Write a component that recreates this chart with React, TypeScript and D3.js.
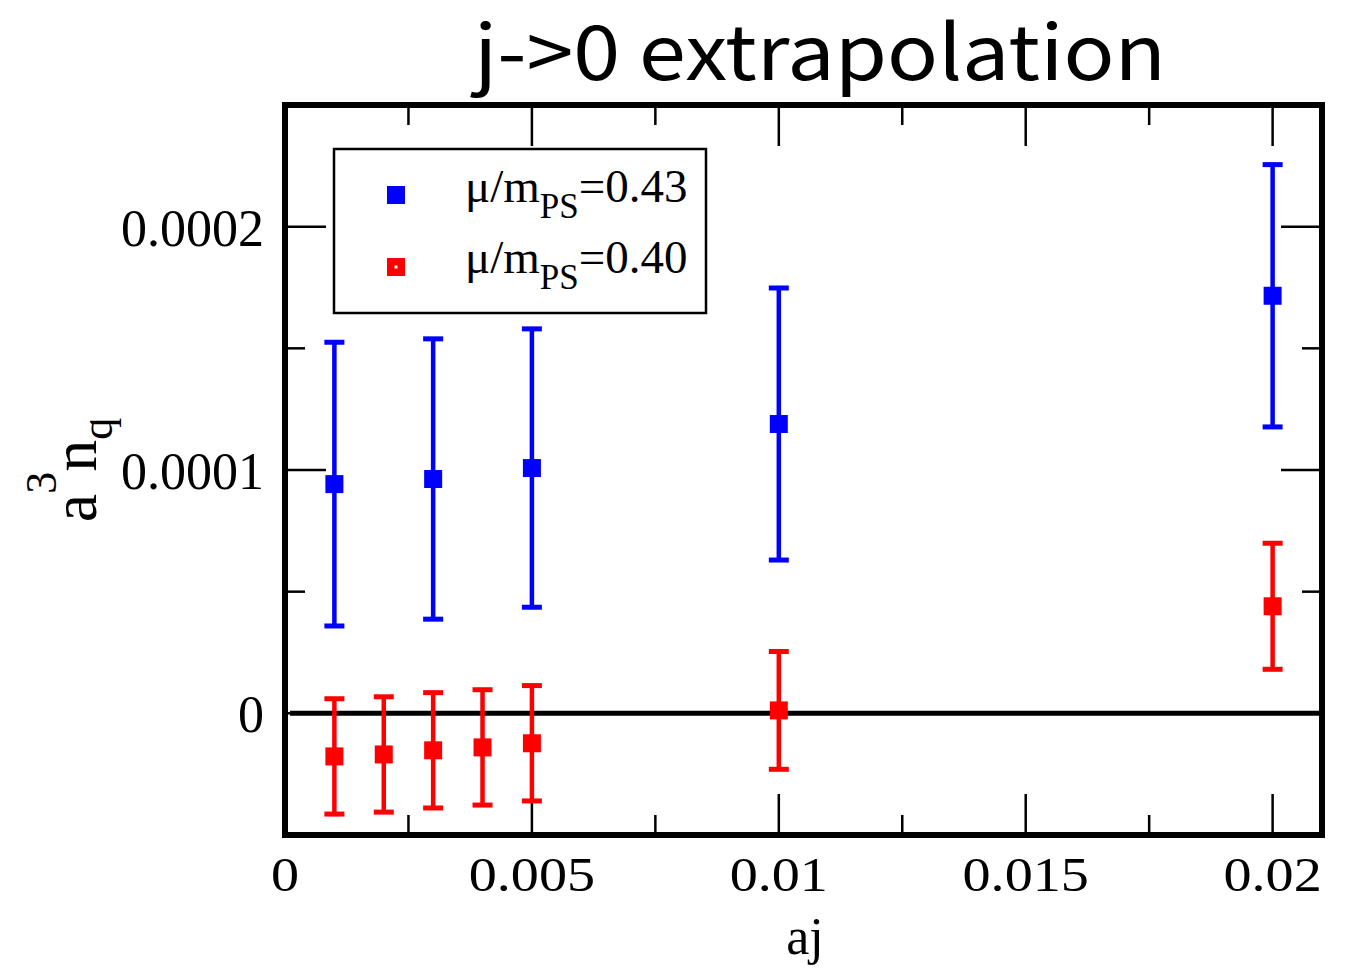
import React from "react";
import * as d3 from "d3";

const xsBlue = [0.001, 0.003, 0.005, 0.01, 0.02];
const yBlue = [0.0000942, 0.0000963, 0.0001008, 0.0001189, 0.0001716];
const eBlue = [0.0000583, 0.0000576, 0.0000572, 0.0000559, 0.0000539];

const xsRed = [0.001, 0.002, 0.003, 0.004, 0.005, 0.01, 0.02];
const yRed = [-0.0000177, -0.0000169, -0.0000152, -0.000014, -0.0000123, 0.0000012, 0.000044];
const eRed = [0.0000237, 0.0000237, 0.0000237, 0.0000237, 0.0000237, 0.0000242, 0.0000259];

const xMajor = [0, 0.005, 0.01, 0.015, 0.02];
const xMajorLabels = ["0", "0.005", "0.01", "0.015", "0.02"];
const xMinor = [0.0025, 0.0075, 0.0125, 0.0175];
const yMajor = [0, 0.0001, 0.0002];
const yMajorLabels = ["0", "0.0001", "0.0002"];
const yMinor = [-0.00005, 0.00005, 0.00015];

export default function App() {
  const W = 1353, H = 972;
  const L = 285, R = 1322, T = 105, B = 835;
  const x = d3.scaleLinear().domain([0, 0.021]).range([L, R]);
  const y = d3.scaleLinear().domain([-0.00005, 0.00025]).range([B, T]);
  const serif = "'Liberation Serif', 'Times New Roman', serif";

  const series = [
    { xs: xsBlue, ys: yBlue, es: eBlue, color: "#0000ff" },
    { xs: xsRed, ys: yRed, es: eRed, color: "#ff0000" },
  ];

  return (
    <svg width={W} height={H} style={{ position: "absolute", left: 0, top: 0 }}>
      <rect x={0} y={0} width={W} height={H} fill="white" />
      <text x={820} y={80} textAnchor="middle" fontFamily="'Noto Sans CJK JP', 'Noto Sans', sans-serif"
        fontSize={76} textLength={692} lengthAdjust="spacingAndGlyphs">j-&gt;0 extrapolation</text>

      {/* zero line */}
      <line x1={L + 5} x2={R} y1={y(0)} y2={y(0)} stroke="black" strokeWidth={5} />

      {/* ticks */}
      {xMajor.map((v, i) => (
        <g key={"xm" + i}>
          <line x1={x(v)} x2={x(v)} y1={B} y2={B - 41} stroke="black" strokeWidth={2.5} />
          <line x1={x(v)} x2={x(v)} y1={T} y2={T + 41} stroke="black" strokeWidth={2.5} />
          <g transform={`translate(${x(v)}, 891) scale(1.17, 1)`}>
            <text x={0} y={0} textAnchor="middle" fontFamily={serif} fontSize={48}>{xMajorLabels[i]}</text>
          </g>
        </g>
      ))}
      {xMinor.map((v, i) => (
        <g key={"xn" + i}>
          <line x1={x(v)} x2={x(v)} y1={B} y2={B - 20} stroke="black" strokeWidth={2.5} />
          <line x1={x(v)} x2={x(v)} y1={T} y2={T + 20} stroke="black" strokeWidth={2.5} />
        </g>
      ))}
      {yMajor.map((v, i) => (
        <g key={"ym" + i}>
          <line x1={L} x2={L + 41} y1={y(v)} y2={y(v)} stroke="black" strokeWidth={2.5} />
          <line x1={R} x2={R - 41} y1={y(v)} y2={y(v)} stroke="black" strokeWidth={2.5} />
          <text x={264} y={y(v) + 19} textAnchor="end" fontFamily={serif} fontSize={52}>{yMajorLabels[i]}</text>
        </g>
      ))}
      {yMinor.map((v, i) => (
        <g key={"yn" + i}>
          <line x1={L} x2={L + 20} y1={y(v)} y2={y(v)} stroke="black" strokeWidth={2.5} />
          <line x1={R} x2={R - 20} y1={y(v)} y2={y(v)} stroke="black" strokeWidth={2.5} />
        </g>
      ))}

      {/* data */}
      {series.map((s, si) => (
        <g key={"s" + si}>
          {s.xs.map((xv, i) => {
            const cx = x(xv), cy = y(s.ys[i]);
            const yt = y(s.ys[i] + s.es[i]), yb = y(s.ys[i] - s.es[i]);
            return (
              <g key={i}>
                <line x1={cx} x2={cx} y1={yt} y2={yb} stroke={s.color} strokeWidth={4.5} />
                <line x1={cx - 10} x2={cx + 10} y1={yt} y2={yt} stroke={s.color} strokeWidth={5} />
                <line x1={cx - 10} x2={cx + 10} y1={yb} y2={yb} stroke={s.color} strokeWidth={5} />
                <rect x={cx - 9} y={cy - 9} width={18} height={18} fill={s.color} />
              </g>
            );
          })}
        </g>
      ))}

      {/* frame */}
      <rect x={L} y={T} width={R - L} height={B - T} fill="none" stroke="black" strokeWidth={6} />

      {/* legend */}
      <rect x={334} y={149} width={372} height={164} fill="white" stroke="black" strokeWidth={2.5} />
      <rect x={387} y={186} width={18} height={18} fill="#0000ff" />
      <rect x={387} y={258} width={18} height={18} fill="#ff0000" />
      <rect x={394.5} y={265.5} width={3} height={3} fill="white" />
      <text x={465} y={202} fontFamily={serif} fontSize={47}>
        μ/m<tspan dy={16} fontSize={35}>PS</tspan><tspan dy={-16}>=0.43</tspan>
      </text>
      <text x={465} y={273} fontFamily={serif} fontSize={47}>
        μ/m<tspan dy={16} fontSize={35}>PS</tspan><tspan dy={-16}>=0.40</tspan>
      </text>

      {/* axis titles */}
      <text x={805} y={954} textAnchor="middle" fontFamily={serif} fontSize={52}>aj</text>
      <g transform="translate(96, 470) rotate(-90)">
        <text x={0} y={0} textAnchor="middle" fontFamily={serif} fontSize={64}>
          a<tspan dy={-40} fontSize={44}>3</tspan><tspan dy={40}>n</tspan><tspan dy={16} fontSize={44}>q</tspan>
        </text>
      </g>
    </svg>
  );
}
